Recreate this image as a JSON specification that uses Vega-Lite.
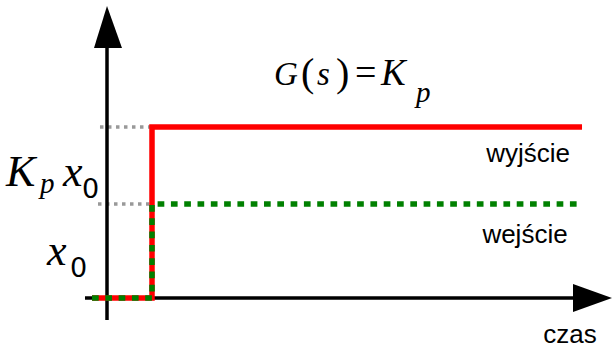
{
  "$schema": "https://vega.github.io/schema/vega-lite/v6.json",
  "width": 614,
  "height": 352,
  "padding": 0,
  "autosize": {"type": "fit", "contains": "padding"},
  "background": "white",
  "config": {"view": {"stroke": null}},
  "datasets": {
    "guides": [
      {"grp": "a", "i": 0, "t": -0.156, "v": 1.819},
      {"grp": "a", "i": 1, "t": 1, "v": 1.819},
      {"grp": "b", "i": 0, "t": -0.2, "v": 1},
      {"grp": "b", "i": 1, "t": 1, "v": 1}
    ],
    "output": [
      {"i": 0, "t": -0.333, "v": 0},
      {"i": 1, "t": 1, "v": 0},
      {"i": 2, "t": 1, "v": 1.819},
      {"i": 3, "t": 10.556, "v": 1.819}
    ],
    "input": [
      {"i": 0, "t": -0.333, "v": 0},
      {"i": 1, "t": 1, "v": 0},
      {"i": 2, "t": 1, "v": 1},
      {"i": 3, "t": 10.556, "v": 1}
    ],
    "axes": [
      {"grp": "y", "i": 0, "t": 0, "v": -0.234},
      {"grp": "y", "i": 1, "t": 0, "v": 2.7},
      {"grp": "x", "i": 0, "t": -0.489, "v": 0},
      {"grp": "x", "i": 1, "t": 10.4, "v": 0}
    ],
    "arrowUp": [
      {"t": -0.289, "v": 2.66, "v2": 2.66},
      {"t": 0, "v": 3.106, "v2": 2.66},
      {"t": 0.333, "v": 2.66, "v2": 2.66}
    ],
    "arrowRight": [
      {"t": 10.356, "v": -0.149, "t2": 10.356},
      {"t": 11.222, "v": 0, "t2": 10.356},
      {"t": 10.356, "v": 0.149, "t2": 10.356}
    ],
    "labels": [
      {"label": "wyjście", "t": 9.356, "v": 1.447},
      {"label": "wejście", "t": 9.289, "v": 0.585},
      {"label": "czas", "t": 10.289, "v": -0.479}
    ],
    "mathBig": [
      {"label": "K", "t": -2.244, "v": 1.191},
      {"label": "x", "t": -0.978, "v": 1.191},
      {"label": "x", "t": -1.333, "v": 0.351}
    ],
    "mathSubItalic": [
      {"label": "p", "t": -1.489, "v": 1.117},
      {"label": "p", "t": 6.867, "v": 2.085}
    ],
    "mathSubDigit": [
      {"label": "0", "t": -0.556, "v": 1.064},
      {"label": "0", "t": -0.822, "v": 0.223}
    ],
    "formulaItalic": [
      {"label": "G", "t": 3.711, "v": 2.266},
      {"label": "s", "t": 4.667, "v": 2.266}
    ],
    "formulaK": [
      {"label": "K", "t": 6.089, "v": 2.266}
    ],
    "formulaParens": [
      {"label": "(", "t": 4.311, "v": 2.255},
      {"label": ")", "t": 5.089, "v": 2.255}
    ],
    "formulaEquals": [
      {"label": "=", "t": 5.511, "v": 2.266}
    ]
  },
  "encoding": {
    "x": {"field": "t", "type": "quantitative", "scale": {"domain": [-2.3778, 11.2667], "nice": false, "zero": false}, "axis": null},
    "y": {"field": "v", "type": "quantitative", "scale": {"domain": [-0.5745, 3.1702], "nice": false, "zero": false}, "axis": null}
  },
  "layer": [
    {
      "data": {"name": "guides"},
      "mark": {"type": "line", "color": "#999999", "strokeWidth": 3.5, "strokeDash": [3.5, 4.5]},
      "encoding": {"detail": {"field": "grp"}, "order": {"field": "i"}}
    },
    {
      "data": {"name": "axes"},
      "mark": {"type": "line", "color": "black", "strokeWidth": 3.5},
      "encoding": {"detail": {"field": "grp"}, "order": {"field": "i"}}
    },
    {
      "data": {"name": "output"},
      "mark": {"type": "line", "color": "#ff0000", "strokeWidth": 5.5},
      "encoding": {"order": {"field": "i"}}
    },
    {
      "data": {"name": "input"},
      "mark": {"type": "line", "color": "#008000", "strokeWidth": 5.5, "strokeDash": [6.7, 6.6]},
      "encoding": {"order": {"field": "i"}}
    },
    {
      "data": {"name": "arrowUp"},
      "mark": {"type": "area", "color": "black", "orient": "vertical"},
      "encoding": {"y2": {"field": "v2"}}
    },
    {
      "data": {"name": "arrowRight"},
      "mark": {"type": "area", "color": "black", "orient": "horizontal"},
      "encoding": {"x2": {"field": "t2"}}
    },
    {
      "data": {"name": "labels"},
      "mark": {"type": "text", "font": "Liberation Sans", "fontSize": 26, "align": "center", "baseline": "alphabetic", "color": "black"},
      "encoding": {"text": {"field": "label"}}
    },
    {
      "data": {"name": "mathBig"},
      "mark": {"type": "text", "font": "Liberation Serif", "fontStyle": "italic", "fontSize": 44, "align": "left", "baseline": "alphabetic", "color": "black"},
      "encoding": {"text": {"field": "label"}}
    },
    {
      "data": {"name": "mathSubItalic"},
      "mark": {"type": "text", "font": "Liberation Serif", "fontStyle": "italic", "fontSize": 29, "align": "left", "baseline": "alphabetic", "color": "black"},
      "encoding": {"text": {"field": "label"}}
    },
    {
      "data": {"name": "mathSubDigit"},
      "mark": {"type": "text", "font": "DejaVu Sans", "fontSize": 27, "align": "left", "baseline": "alphabetic", "color": "black"},
      "encoding": {"text": {"field": "label"}}
    },
    {
      "data": {"name": "formulaItalic"},
      "mark": {"type": "text", "font": "Liberation Serif", "fontStyle": "italic", "fontSize": 33, "align": "left", "baseline": "alphabetic", "color": "black"},
      "encoding": {"text": {"field": "label"}}
    },
    {
      "data": {"name": "formulaK"},
      "mark": {"type": "text", "font": "Liberation Serif", "fontStyle": "italic", "fontSize": 37, "align": "left", "baseline": "alphabetic", "color": "black"},
      "encoding": {"text": {"field": "label"}}
    },
    {
      "data": {"name": "formulaParens"},
      "mark": {"type": "text", "font": "Liberation Serif", "fontSize": 40, "align": "left", "baseline": "alphabetic", "color": "black"},
      "encoding": {"text": {"field": "label"}}
    },
    {
      "data": {"name": "formulaEquals"},
      "mark": {"type": "text", "font": "Liberation Serif", "fontSize": 38, "align": "left", "baseline": "alphabetic", "color": "black"},
      "encoding": {"text": {"field": "label"}}
    }
  ]
}
